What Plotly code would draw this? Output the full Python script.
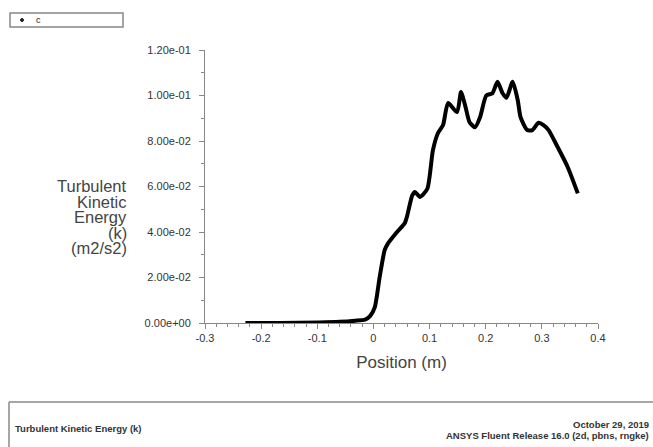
import plotly.graph_objects as go

# ---- data ----
position = [-0.228, -0.167, -0.096, -0.060, -0.033, -0.015, -0.006, 0.0025, 0.011, 0.020,
            0.026, 0.042, 0.056, 0.060, 0.069, 0.074, 0.083, 0.096, 0.106, 0.115,
            0.124, 0.133, 0.149, 0.156, 0.164, 0.171, 0.181, 0.190, 0.201, 0.212,
            0.221, 0.230, 0.237, 0.248, 0.257, 0.262, 0.274, 0.283, 0.294, 0.303,
            0.312, 0.328, 0.346, 0.364]
tke = [0.0, 0.0, 0.0002, 0.0005, 0.001, 0.0015, 0.003, 0.007, 0.020, 0.032,
       0.035, 0.040, 0.044, 0.047, 0.056, 0.0576, 0.0554, 0.059, 0.076, 0.0835,
       0.087, 0.0967, 0.0927, 0.1015, 0.095, 0.0884, 0.086, 0.0905, 0.100, 0.101,
       0.106, 0.101, 0.099, 0.106, 0.098, 0.0905, 0.0848, 0.0848, 0.088, 0.087,
       0.0848, 0.0774, 0.0686, 0.057]
x_ticks = [-0.3, -0.2, -0.1, 0.0, 0.1, 0.2, 0.3, 0.4]
x_tick_labels = ["-0.3", "-0.2", "-0.1", "0", "0.1", "0.2", "0.3", "0.4"]
y_ticks = [0.0, 0.02, 0.04, 0.06, 0.08, 0.10, 0.12]
y_tick_labels = [f"{v:.2e}" for v in y_ticks]
y_title_lines = ["Turbulent", "Kinetic", "Energy", "(k)", "(m2/s2)"]
series_name = "c"
footer_left = "Turbulent Kinetic Energy (k)"
footer_right = ["October 29, 2019", "ANSYS Fluent Release 16.0 (2d, pbns, rngke)"]

W, H = 653, 447
L, R, T, B = 205, 55, 50, 124
PW, PH = W - L - R, H - T - B


def px(xp):
    return (xp - L) / PW


def py(yp):
    return (H - B - yp) / PH


FONT = "Liberation Sans, Arial, sans-serif"
GREY = "#444444"

fig = go.Figure()
fig.add_trace(go.Scatter(x=position, y=tke, mode="lines", name=series_name,
                         line=dict(color="black", width=4, shape="spline", smoothing=0.6),
                         showlegend=False))

axis_common = dict(showgrid=False, zeroline=False, showline=True, linecolor="#888888",
                   linewidth=1, ticks="outside", ticklen=5, tickcolor="#888888",
                   tickfont=dict(family=FONT, size=11, color="#333333"))

fig.update_xaxes(range=[-0.3, 0.4], tickvals=x_ticks, ticktext=x_tick_labels,
                 minor=dict(dtick=0.02, ticks="outside", ticklen=3, tickcolor="#888888"),
                 title=dict(text="Position (m)", font=dict(family=FONT, size=17, color=GREY),
                            standoff=12),
                 **axis_common)
fig.update_yaxes(range=[0, 0.12], tickvals=y_ticks, ticktext=y_tick_labels,
                 ticklabelstandoff=6,
                 minor=dict(dtick=0.01, ticks="outside", ticklen=3, tickcolor="#888888"),
                 **axis_common)

annotations = []
for i, line in enumerate(y_title_lines):
    annotations.append(dict(xref="paper", yref="paper", x=px(128), y=py(186 + i * 15.5),
                            xanchor="right", yanchor="middle", showarrow=False, text=line,
                            borderpad=0,
                            font=dict(family=FONT, size=16.5, color=GREY)))

# legend box
annotations.append(dict(xref="paper", yref="paper", x=px(34), y=py(20), xanchor="left",
                        yanchor="middle", showarrow=False, text=series_name,
                        font=dict(family=FONT, size=9, color="#222222")))
# footer
annotations.append(dict(xref="paper", yref="paper", x=px(13), y=py(428), xanchor="left",
                        yanchor="middle", showarrow=False, text="<b>" + footer_left + "</b>",
                        font=dict(family=FONT, size=9.5, color="#333333")))
annotations.append(dict(xref="paper", yref="paper", x=px(651), y=py(424), xanchor="right",
                        yanchor="middle", showarrow=False, text="<b>" + footer_right[0] + "</b>",
                        font=dict(family=FONT, size=9.5, color="#333333")))
annotations.append(dict(xref="paper", yref="paper", x=px(651), y=py(436), xanchor="right",
                        yanchor="middle", showarrow=False, text="<b>" + footer_right[1] + "</b>",
                        font=dict(family=FONT, size=9.5, color="#333333")))

shapes = [
    dict(type="rect", xref="paper", yref="paper", x0=px(10), x1=px(123), y0=py(13), y1=py(27),
         line=dict(color="#888888", width=1.5), fillcolor="white", layer="below"),
    dict(type="circle", xref="paper", yref="paper", x0=px(20.5), x1=px(23.5), y0=py(18.5),
         y1=py(21.5), line=dict(color="#222222", width=1), fillcolor="#222222"),
    dict(type="line", xref="paper", yref="paper", x0=px(9), x1=px(700), y0=py(402), y1=py(402),
         line=dict(color="#888888", width=1.5)),
    dict(type="line", xref="paper", yref="paper", x0=px(9), x1=px(9), y0=py(402), y1=py(460),
         line=dict(color="#888888", width=1.5)),
]

fig.update_layout(width=W, height=H, autosize=False,
                  margin=dict(l=L, r=R, t=T, b=B, pad=0),
                  paper_bgcolor="white", plot_bgcolor="white",
                  annotations=annotations, shapes=shapes, showlegend=False)

fig.write_html("out.html", config={"displayModeBar": False},
               post_script="document.body.style.margin='0';document.body.style.overflow='hidden';")
